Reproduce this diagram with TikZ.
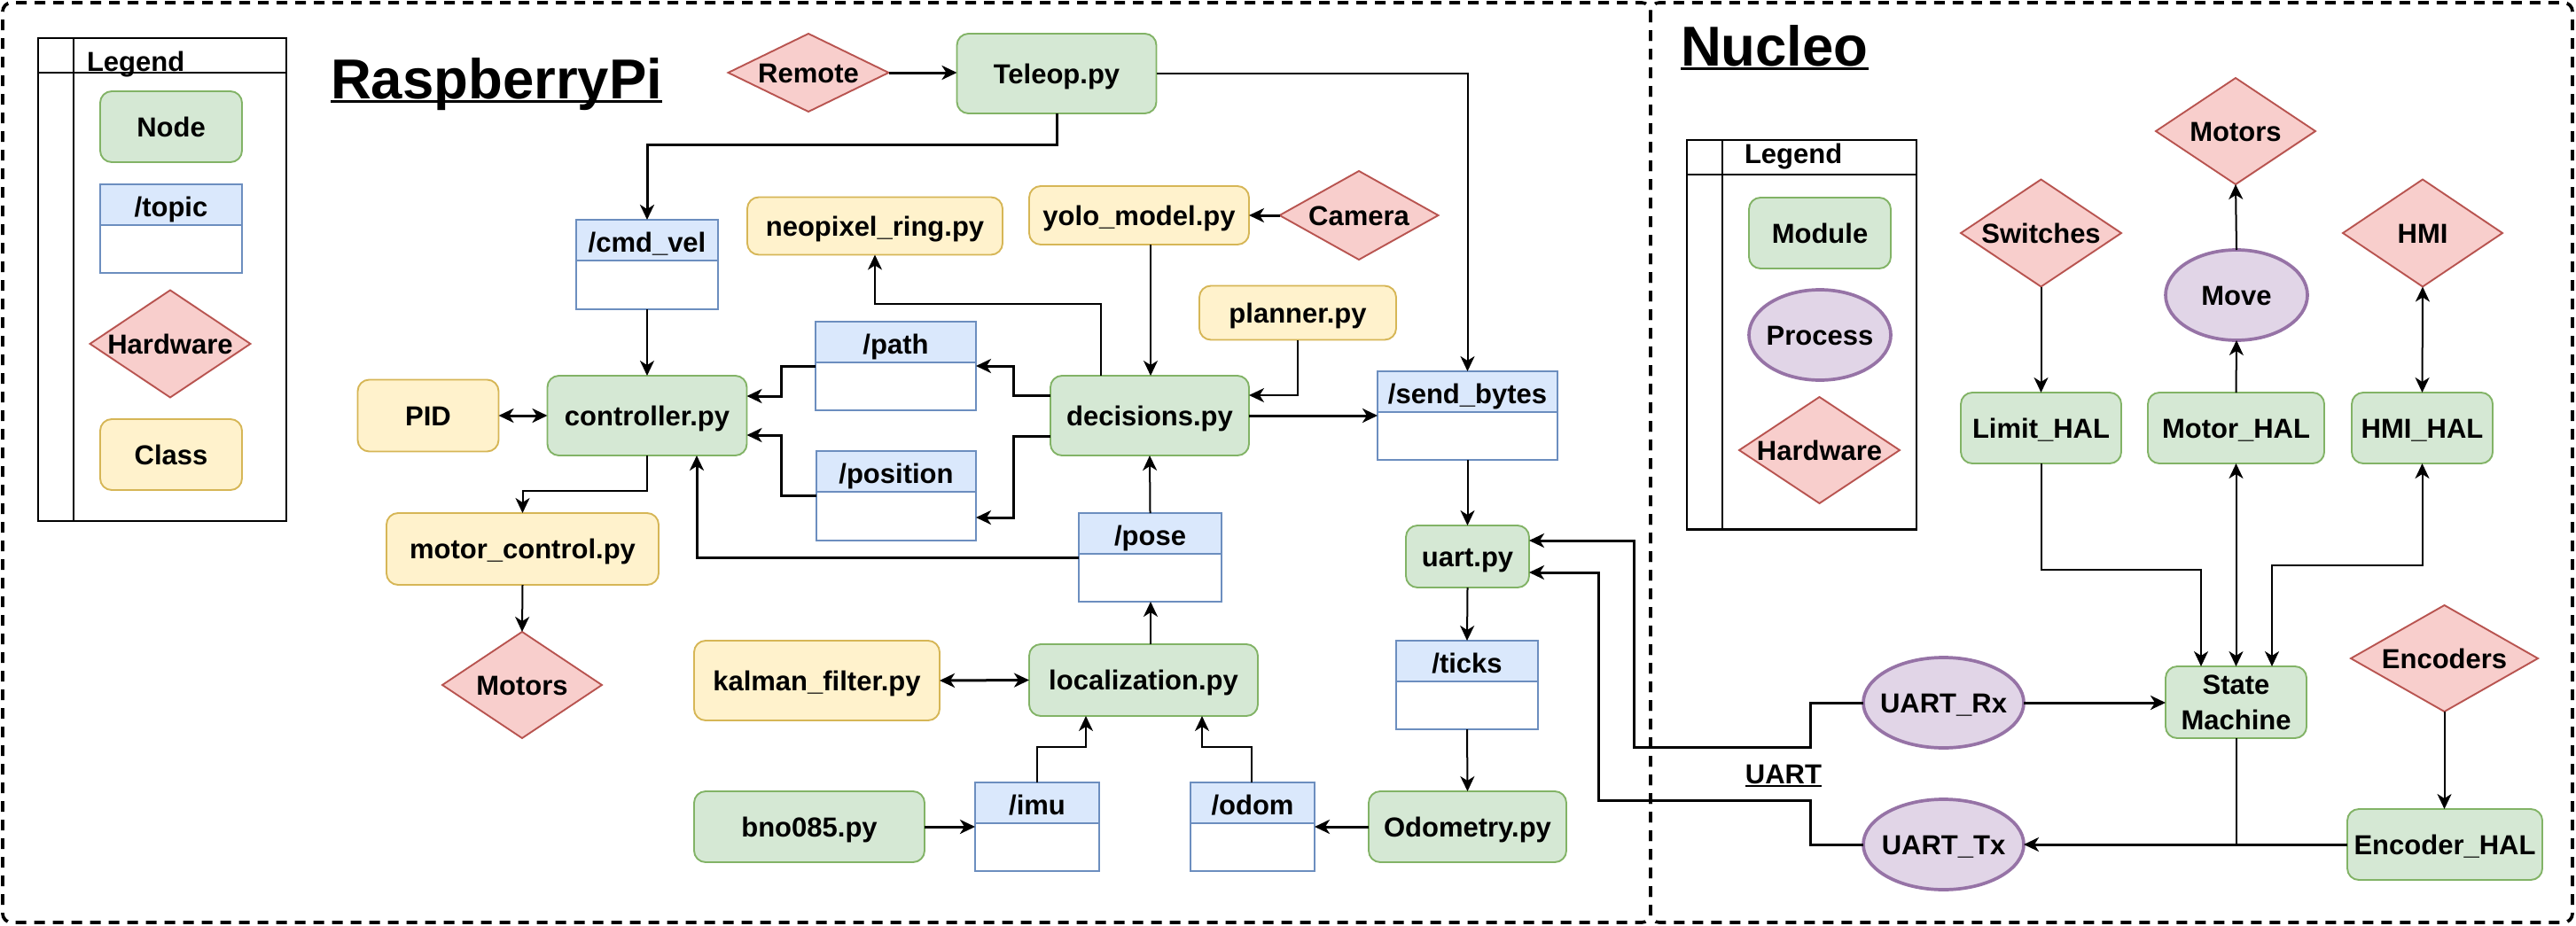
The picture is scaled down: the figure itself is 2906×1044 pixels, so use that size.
\documentclass[tikz,border=0pt]{standalone}
\usepackage{fontspec}
\setmainfont{Liberation Sans}
\usetikzlibrary{shapes.geometric,arrows.meta,calc}
\definecolor{gfill}{HTML}{D5E8D4}\definecolor{gline}{HTML}{82B366}
\definecolor{bfill}{HTML}{DAE8FC}\definecolor{bline}{HTML}{6C8EBF}
\definecolor{rfill}{HTML}{F8CECC}\definecolor{rline}{HTML}{B85450}
\definecolor{yfill}{HTML}{FFF2CC}\definecolor{yline}{HTML}{D6B656}
\definecolor{pfill}{HTML}{E1D5E7}\definecolor{pline}{HTML}{9673A6}
\newcommand{\zb}[1]{\makebox[0pt]{#1}}
\begin{document}
\begin{tikzpicture}[x=1pt,y=-1pt,
  every node/.style={font=\fontsize{31}{40}\selectfont\bfseries, inner sep=0pt, outer sep=0pt, text height=22.2pt, text depth=0pt},
  wh/.style 2 args={minimum width=#1pt, minimum height=#2pt},
  gbox/.style={rectangle, rounded corners=13pt, draw=gline, fill=gfill, line width=1.9pt},
  ybox/.style={rectangle, rounded corners=13pt, draw=yline, fill=yfill, line width=1.9pt},
  hw/.style={diamond, draw=rline, fill=rfill, line width=1.9pt},
  proc/.style={ellipse, draw=pline, fill=pfill, line width=3.7pt},
  topic/.style={rectangle, draw=bline, fill=white, line width=1.9pt,
    path picture={\fill[bfill] (path picture bounding box.north west) rectangle ([yshift=-46pt]path picture bounding box.north east);
      \draw[bline, line width=1.9pt] ([yshift=-46pt]path picture bounding box.north west) -- ([yshift=-46pt]path picture bounding box.north east);}},
  frame/.style={draw=black, line width=3.7pt, dash pattern=on 12pt off 9pt, rounded corners=10pt},
  leg/.style={draw=black, line width=2.7pt},
  arr/.style={draw=black, line width=2pt, -{Stealth[length=17pt, width=16pt, inset=5pt]}},
  arrT/.style={draw=black, line width=3pt, -{Stealth[length=17pt, width=16pt, inset=5pt]}},
  arr2/.style={draw=black, line width=2pt, {Stealth[length=17pt, width=16pt, inset=5pt]}-{Stealth[length=17pt, width=16pt, inset=5pt]}},
  arr2T/.style={draw=black, line width=3pt, {Stealth[length=17pt, width=16pt, inset=5pt]}-{Stealth[length=17pt, width=16pt, inset=5pt]}},
  lineT/.style={draw=black, line width=2pt},
  title/.style={anchor=base west, font=\fontsize{63.5}{70}\selectfont\bfseries, text height=, text depth=}
]
\useasboundingbox (0,0) rectangle (2906,1044);

% frames (shared edge drawn with the same start and direction so dashes coincide)
\draw[frame] (1862,3) -- (1862,1041) -- (3,1041) -- (3,3) -- cycle;
\draw[frame] (1862,3) -- (1862,1041) -- (2902,1041) -- (2902,3) -- cycle;

% legend A
\draw[leg] (43,43) rectangle (323,588);
\draw[leg] (43,82) -- (323,82);
\draw[leg] (83,43) -- (83,588);
\node[anchor=base west] (legAt) at (98,80) {Legend};
\node[gbox, wh={160}{80}] (lgNode) at (193,143) {Node};
\node[topic, wh={160}{100}] (lgTopic) at (193,258) {};
\node (lgTopic-t) at ($(lgTopic.north)+(0,25)$) {/topic};
\node[hw, wh={181}{121}] (lgHw) at (192,388) {\zb{Hardware}};
\node[ybox, wh={160}{80}] (lgClass) at (193,513) {Class};

% titles
\node[title] (tRPi) at (373,111) {RaspberryPi};
\draw[line width=3pt] ([yshift=-3pt]tRPi.base west) -- ([yshift=-3pt]tRPi.base east);
\node[title] (tNuc) at (1896,74) {Nucleo};
\draw[line width=3pt] ([yshift=-3pt]tNuc.base west) -- ([yshift=-3pt]tNuc.base east);

% RaspberryPi nodes
\node[hw, wh={181}{88}] (remote) at (912,82) {\zb{Remote}};
\node[gbox, wh={225}{90}] (teleop) at (1192,83) {Teleop.py};
\node[topic, wh={160}{101}] (cmdvel) at (730,298.5) {};
\node (cmdvel-t) at ($(cmdvel.north)+(0,25)$) {/cmd\_vel};
\node[ybox, wh={288}{65}] (neopixel) at (987,255) {neopixel\_ring.py};
\node[ybox, wh={248}{66}] (yolo) at (1285,243) {yolo\_model.py};
\node[hw, wh={179}{100}] (camera) at (1533,243) {\zb{Camera}};
\node[ybox, wh={222}{61}] (planner) at (1464,353) {planner.py};
\node[ybox, wh={159}{81}] (pid) at (483,469) {PID};
\node[gbox, wh={225}{90}] (controller) at (730,469) {controller.py};
\node[topic, wh={181}{100}] (path) at (1010.5,413) {};
\node (path-t) at ($(path.north)+(0,25)$) {/path};
\node[gbox, wh={224}{90}] (decisions) at (1297,469) {decisions.py};
\node[topic, wh={203}{100}] (sendbytes) at (1655.5,469) {};
\node (sendbytes-t) at ($(sendbytes.north)+(0,25)$) {/send\_bytes};
\node[topic, wh={180}{101}] (position) at (1011,559.5) {};
\node (position-t) at ($(position.north)+(0,25)$) {/position};
\node[topic, wh={161}{100}] (pose) at (1297.5,629) {};
\node (pose-t) at ($(pose.north)+(0,25)$) {/pose};
\node[ybox, wh={307}{81}] (motorctl) at (589.5,619.5) {motor\_control.py};
\node[hw, wh={180}{120}] (motorsA) at (589,773) {\zb{Motors}};
\node[gbox, wh={139}{70}] (uart) at (1655.5,628) {uart.py};
\node[ybox, wh={277}{90}] (kalman) at (921.5,768) {kalman\_filter.py};
\node[gbox, wh={258}{81}] (localization) at (1290,767.5) {localization.py};
\node[topic, wh={160}{100}] (ticks) at (1655,773) {};
\node (ticks-t) at ($(ticks.north)+(0,25)$) {/ticks};
\node[gbox, wh={260}{80}] (bno) at (913,933) {bno085.py};
\node[topic, wh={140}{100}] (imu) at (1170,933) {};
\node (imu-t) at ($(imu.north)+(0,25)$) {/imu};
\node[topic, wh={140}{100}] (odom) at (1413,933) {};
\node (odom-t) at ($(odom.north)+(0,25)$) {/odom};
\node[gbox, wh={223}{80}] (odometry) at (1655.5,933) {Odometry.py};

% legend B
\draw[leg] (1903,158) rectangle (2162,597.5);
\draw[leg] (1903,197) -- (2162,197);
\draw[leg] (1943,158) -- (1943,597.5);
\node[anchor=base west] (legBt) at (1968,184) {Legend};
\node[gbox, wh={160}{80}] (lgModule) at (2053,263) {Module};
\node[proc, wh={160}{102}] (lgProcess) at (2053,378) {\zb{Process}};
\node[hw, wh={181}{120}] (lgHw2) at (2052.5,508) {\zb{Hardware}};

% Nucleo nodes
\node[hw, wh={180}{120}] (motorsB) at (2522,148) {\zb{Motors}};
\node[hw, wh={181}{121}] (switches) at (2302.5,263) {\zb{Switches}};
\node[hw, wh={180}{121}] (hmi) at (2733,263) {\zb{HMI}};
\node[proc, wh={160}{102}] (move) at (2523,333) {\zb{Move}};
\node[gbox, wh={181}{80}] (limithal) at (2302.5,483) {Limit\_HAL};
\node[gbox, wh={199}{80}] (motorhal) at (2522.5,483) {Motor\_HAL};
\node[gbox, wh={159}{80}] (hmihal) at (2732.5,483) {HMI\_HAL};
\node[gbox, wh={159}{81}, text height=62.2pt] (sm) at (2522.5,792.5)
  {\vbox{\baselineskip=40pt\hbox to 0pt{\hss State\hss}\hbox to 0pt{\hss Machine\hss}}};
\node[hw, wh={211}{120}] (encoders) at (2757.5,743) {\zb{Encoders}};
\node[gbox, wh={220}{80}] (enchal) at (2758,953) {Encoder\_HAL};
\node[proc, wh={181}{102}] (uartrx) at (2192.5,793) {\zb{UART\_Rx}};
\node[proc, wh={181}{102}] (uarttx) at (2192.5,953) {\zb{UART\_Tx}};
\node[anchor=base] (uartlbl) at (2012,884) {UART};
\draw[line width=2pt] ([yshift=-3pt]uartlbl.base west) -- ([yshift=-3pt]uartlbl.base east);

% connectors RaspberryPi
\draw[arrT] (remote.east) -- (teleop.west |- remote.east);
\draw[arr] (teleop.east) -| (sendbytes.north);
\draw[arrT] (teleop.south) -- (teleop.south |- 0,163) -| (cmdvel.north);
\draw[arr] (cmdvel.south) -- (controller.north);
\draw[arr2T] (pid.east) -- (controller.west);
\draw[arrT] (path.west) -- (881,413) |- (controller.east |- 0,447);
\draw[arrT] (position.west) -- (881,559.5) |- (controller.east |- 0,491);
\draw[arr] (controller.south) |- (motorctl.north |- 0,554) -- (motorctl.north);
\draw[arr] (motorctl.south) -- (motorsA.north);
\draw[arrT] (pose.west) -| (controller.south -| 786,0);
\draw[arr] (pose.north) -- (decisions.south);
\draw[arrT] (decisions.west |- 0,446) -- (1143,446) |- (path.east);
\draw[arrT] (decisions.west |- 0,492) -- (1143,492) |- (position.east |- 0,584);
\draw[arr] (decisions.north -| 1242,0) |- (neopixel.south |- 0,343) -- (neopixel.south);
\draw[arr] (yolo.south -| 1298,0) -- (decisions.north -| 1298,0);
\draw[arrT] (camera.west) -- (yolo.east);
\draw[arr] (planner.south) |- (decisions.east |- 0,446);
\draw[arrT] (decisions.east) -- (sendbytes.west);
\draw[arr] (sendbytes.south) -- (uart.north);
\draw[arr] (uart.south) -- (ticks.north);
\draw[arr] (ticks.south) -- (odometry.north);
\draw[arrT] (odometry.west) -- (odom.east);
\draw[arr] (odom.north -| 1412,0) |- (1356,843) -- (localization.south -| 1356,0);
\draw[arr] (imu.north) |- (1225,843) -- (localization.south -| 1225,0);
\draw[arrT] (bno.east) -- (imu.west);
\draw[arr2T] (kalman.east) -- (localization.west);
\draw[arr] (localization.north -| 1298,0) -- (pose.south -| 1298,0);

% connectors UART
\draw[arrT] (uartrx.west) -- (2042,793) |- (1843,843) |- (uart.east |- 0,610);
\draw[arrT] (uarttx.west) -- (2042,953) |- (1803,903) |- (uart.east |- 0,646);

% connectors Nucleo
\draw[arrT] (uartrx.east) -- (sm.west |- uartrx.east);
\draw[arrT] (enchal.west) -- (uarttx.east);
\draw[lineT] (sm.south) -- (sm.south |- enchal.west);
\draw[arr] (encoders.south) -- (enchal.north -| encoders.south);
\draw[arr] (limithal.south) |- (2483,643) -- (sm.north -| 2483,0);
\draw[arr2] (motorhal.south) -- (sm.north -| motorhal.south);
\draw[arr2] (hmihal.south) |- (2563,638) -- (sm.north -| 2563,0);
\draw[arr] (switches.south) -- (limithal.north);
\draw[arr] (motorhal.north) -- (move.south);
\draw[arr] (move.north) -- (motorsB.south);
\draw[arr2] (hmi.south) -- (hmihal.north);
\end{tikzpicture}
\end{document}
